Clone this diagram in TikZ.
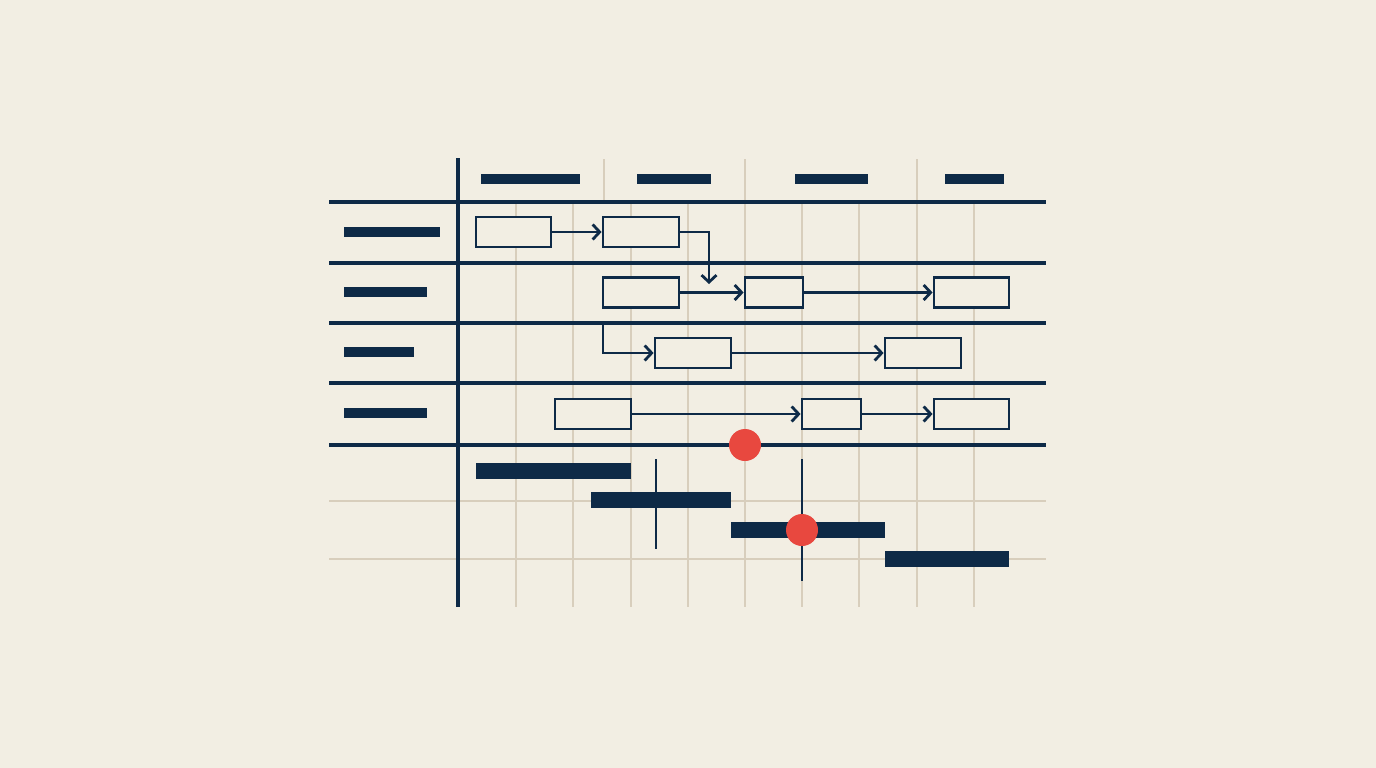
\documentclass[tikz,border=0pt]{standalone}
\usepackage{tikz}
\usetikzlibrary{arrows.meta}
\definecolor{paper}{HTML}{F2EEE3}
\definecolor{ink}{HTML}{0E2A47}
\definecolor{gridline}{HTML}{D8CEBC}
\definecolor{alert}{HTML}{E8483F}
\tikzset{
  task/.style={draw=ink,line width=2.8pt,fill=paper,minimum height=30pt,inner sep=0pt},
  link/.style={draw=ink,line width=2.3pt,-{Straight Barb[length=7pt,width=15pt,line width=2.8pt]}},
  rule/.style={draw=ink,line width=3.6pt},
  faint/.style={draw=gridline,line width=1.8pt},
}

\begin{document}
\begin{tikzpicture}[x=1pt,y=-1pt]
\useasboundingbox (0,0) rectangle (1376,768);
\fill[paper] (0,0) rectangle (1376,768);
% light grid
\foreach \x in {516,573,631,688,745,802,859,917,974}
  \draw[faint] (\x,202) -- (\x,607);
\foreach \x in {604,745,917}
  \draw[faint] (\x,159) -- (\x,202);
\draw[faint] (329,501) -- (1046,501);
\draw[faint] (329,559) -- (1046,559);
% frame
\draw[rule,line width=4.2pt] (329,202) -- (1046,202);
\draw[rule] (329,263) -- (1046,263);
\draw[rule] (329,323) -- (1046,323);
\draw[rule] (329,383) -- (1046,383);
\draw[rule,line width=4.2pt] (329,445) -- (1046,445);
\draw[rule,line width=4.2pt] (458,158) -- (458,607);
% header and row labels
\fill[ink] (481,174) rectangle (580,184);
\fill[ink] (637,174) rectangle (711,184);
\fill[ink] (795,174) rectangle (868,184);
\fill[ink] (945,174) rectangle (1004,184);
\fill[ink] (344,227) rectangle (440,237);
\fill[ink] (344,287) rectangle (427,297);
\fill[ink] (344,347) rectangle (414,357);
\fill[ink] (344,408) rectangle (427,418);
% tasks
\node[task,minimum width=75pt] (a) at (513.5,232) {};
\node[task,minimum width=76pt] (b) at (641,232) {};
\node[task,minimum width=76pt] (c) at (641,292.5) {};
\node[task,minimum width=58pt] (d) at (774,292.5) {};
\node[task,minimum width=75pt] (e) at (971.5,292.5) {};
\node[task,minimum width=76pt] (f) at (693,353) {};
\node[task,minimum width=76pt] (g) at (923,353) {};
\node[task,minimum width=76pt] (h) at (593,414) {};
\node[task,minimum width=59pt] (i) at (831.5,414) {};
\node[task,minimum width=75pt] (j) at (971.5,414) {};
\coordinate (drop) at (709,284);
\coordinate (fork) at (603,324);
% dependencies
\draw[link] (a) -- (b);
\draw[link] (b.east) -| (drop);
\draw[link] (c) -- (d);
\draw[link] (d) -- (e);
\draw[link] (fork) |- (f.west);
\draw[link] (f) -- (g);
\draw[link] (h) -- (i);
\draw[link] (i) -- (j);
% schedule bars
\fill[ink] (476,463) rectangle (631,479);
\fill[ink] (591,492) rectangle (731,508);
\fill[ink] (731,522) rectangle (885,538);
\fill[ink] (885,551) rectangle (1009,567);
\draw[ink,line width=2.8pt] (656,459) -- (656,549);
\draw[ink,line width=2.8pt] (802,459) -- (802,581);
% markers
\fill[alert] (745,445) circle[radius=16pt];
\fill[alert] (802,530) circle[radius=16pt];
\end{tikzpicture}
\end{document}
